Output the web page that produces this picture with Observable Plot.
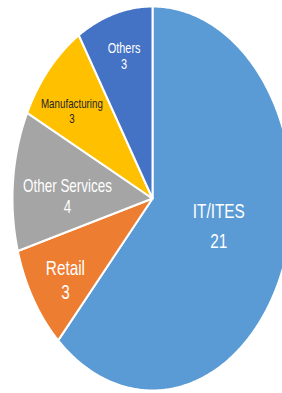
<!DOCTYPE html>
<html>
<head>
<meta charset="utf-8">
<script src="https://cdn.jsdelivr.net/npm/d3@7"></script>
<script src="https://cdn.jsdelivr.net/npm/@observablehq/plot@0.6"></script>
<style>
  html, body { margin: 0; padding: 0; background: #fff; }
  #chart svg { overflow: hidden; display: block; }
</style>
</head>
<body>
<div id="chart"></div>
<script>
const categories = ["IT/ITES", "Retail", "Other Services", "Manufacturing", "Others"];
const values = [21, 3, 4, 3, 3];
const colors = ["#5B9BD5", "#ED7D31", "#A5A5A5", "#FFC000", "#4472C4"];

const arcs = d3.pie().sort(null).value(d => d)(values);

// label styling (not data): radius along the mid-angle, pixel nudges, font size, line height
const labelStyle = {
  "IT/ITES":        {r: 0.5,  dx: 1,  dy: 0,  size: 21,   lh: 1.43},
  "Retail":         {r: 0.74, dx: 1,  dy: 6,  size: 21,   lh: 1.14},
  "Other Services": {r: 0.61, dx: 0,  dy: 8,  size: 18.4, lh: 1.12},
  "Manufacturing":  {r: 0.74, dx: -4, dy: 8,  size: 13.4, lh: 1.08},
  "Others":         {r: 0.74, dx: 0,  dy: -6, size: 15,   lh: 1.05}
};

const marks = [];
arcs.forEach((a, i) => {
  const n = Math.max(2, Math.ceil((a.endAngle - a.startAngle) / 0.01));
  const pts = [{x: 0, y: 0}];
  for (let k = 0; k <= n; k++) {
    const t = a.startAngle + (a.endAngle - a.startAngle) * k / n;
    pts.push({x: Math.sin(t), y: Math.cos(t)});
  }
  pts.push({x: 0, y: 0});
  marks.push(Plot.line(pts, {x: "x", y: "y", fill: colors[i], stroke: "white", strokeWidth: 2, strokeLinejoin: "round"}));
});

arcs.forEach((a, i) => {
  const name = categories[i];
  const s = labelStyle[name];
  const mid = (a.startAngle + a.endAngle) / 2;
  const big = a.value === d3.max(values);
  marks.push(Plot.text([{name, value: values[i], x: Math.sin(mid) * s.r, y: Math.cos(mid) * s.r + (big ? 0.05 : 0)}], {
    x: "x", y: "y",
    dx: s.dx, dy: s.dy,
    text: d => d.name + "\n" + d.value,
    fill: colors[i] === "#FFC000" ? "#262626" : "white",
    fontSize: s.size,
    lineHeight: s.lh,
    fontFamily: "'Liberation Sans', Arial, sans-serif"
  }));
});

const chart = Plot.plot({
  width: 282,
  height: 393,
  margin: 0,
  x: {domain: [-1, 1], range: [12, 292], axis: null},
  y: {domain: [-1, 1], range: [390, 6], axis: null},
  style: {background: "white", overflow: "hidden"},
  marks
});
// The reference pie is horizontally compressed; compress the label glyphs the same way.
d3.select(chart).selectAll("g[aria-label='text'] text").each(function () {
  const t = this.getAttribute("transform") || "";
  this.setAttribute("transform", t + " scale(0.73,1)");
});
document.getElementById("chart").appendChild(chart);
</script>
</body>
</html>
